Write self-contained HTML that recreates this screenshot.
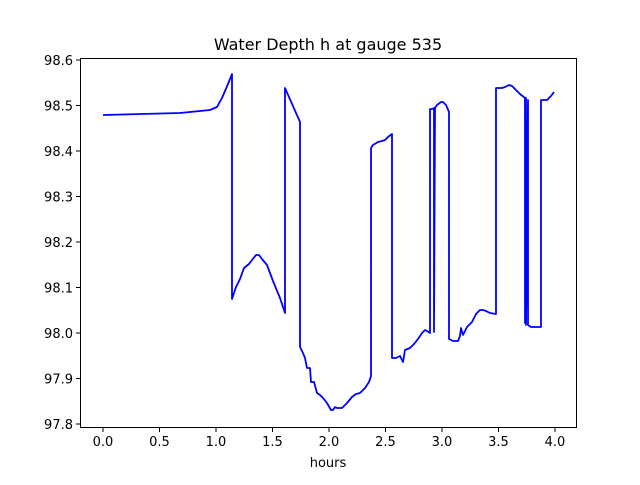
<!DOCTYPE html><html><head><style>body{margin:0;background:#fff}</style></head><body>
<svg width="640" height="480" xmlns="http://www.w3.org/2000/svg" font-family="DejaVu Sans, sans-serif">
<rect width="640" height="480" fill="#fff"/>
<text x="328" y="50" font-size="16" text-anchor="middle">Water Depth h at gauge 535</text>
<polyline fill="none" stroke="#0000ff" stroke-width="1.8" stroke-linejoin="round" points="103,115 180,113 210,110 217,107 222,98 228,84 232,74 232,299 236,287 240,279 244,268 249,264 252,260 256,255 259,255 262,259 267,265 273,281 280,298 284,310 285,313 285,88 300,122 300,347 303,353 305,358 307,368 310,368 311,382 314,382 317,393 320,395 323,398 327,403 331,410 333,410 335,407 337,408 342,408 347,403 352,397 356,394 360,393 365,388 369,382 371,376 371,148 373,145 378,142 382,141 385,140 388,137 392,134 392,358 396,358 400,356 403,362 405,350 410,348 414,344 418,339 422,333 425,330 427,331 430,333 430,109 432,109 434,108 434,332 435,108 437,105 441,102 443,102 446,105 449,112 449,339 453,341 458,341 460,336 461,328 463,335 465,331 467,327 472,322 476,314 480,310 483,310 486,311 490,313 496,314 496,88 502,88 505,87 509,85 512,86 516,90 520,94 525,98 525,323 526,98 526,325 528,100 528,325 531,327 535,327 538,327 541,327 541,100 547,100 551,96 554,92"/>
<rect x="80.5" y="58.5" width="496" height="369" fill="none" stroke="#000" stroke-width="1"/>
<g stroke="#000" stroke-width="1">
<line x1="103" y1="428" x2="103" y2="432"/><line x1="159.5" y1="428" x2="159.5" y2="432"/><line x1="216" y1="428" x2="216" y2="432"/><line x1="272.5" y1="428" x2="272.5" y2="432"/><line x1="329" y1="428" x2="329" y2="432"/><line x1="385.5" y1="428" x2="385.5" y2="432"/><line x1="442" y1="428" x2="442" y2="432"/><line x1="498.5" y1="428" x2="498.5" y2="432"/><line x1="555" y1="428" x2="555" y2="432"/>
<line x1="76" y1="60" x2="80" y2="60"/><line x1="76" y1="105.5" x2="80" y2="105.5"/><line x1="76" y1="151" x2="80" y2="151"/><line x1="76" y1="196.5" x2="80" y2="196.5"/><line x1="76" y1="242" x2="80" y2="242"/><line x1="76" y1="287.5" x2="80" y2="287.5"/><line x1="76" y1="333" x2="80" y2="333"/><line x1="76" y1="378.5" x2="80" y2="378.5"/><line x1="76" y1="424" x2="80" y2="424"/>
</g>
<g font-size="13" text-anchor="middle">
<text x="103" y="446">0.0</text><text x="159.5" y="446">0.5</text><text x="216" y="446">1.0</text><text x="272.5" y="446">1.5</text><text x="329" y="446">2.0</text><text x="385.5" y="446">2.5</text><text x="442" y="446">3.0</text><text x="498.5" y="446">3.5</text><text x="555" y="446">4.0</text>
<text x="328" y="467">hours</text>
</g>
<g font-size="13" text-anchor="end">
<text x="73" y="65">98.6</text><text x="73" y="110.5">98.5</text><text x="73" y="156">98.4</text><text x="73" y="201.5">98.3</text><text x="73" y="247">98.2</text><text x="73" y="292.5">98.1</text><text x="73" y="338">98.0</text><text x="73" y="383.5">97.9</text><text x="73" y="429">97.8</text>
</g>
</svg></body></html>
